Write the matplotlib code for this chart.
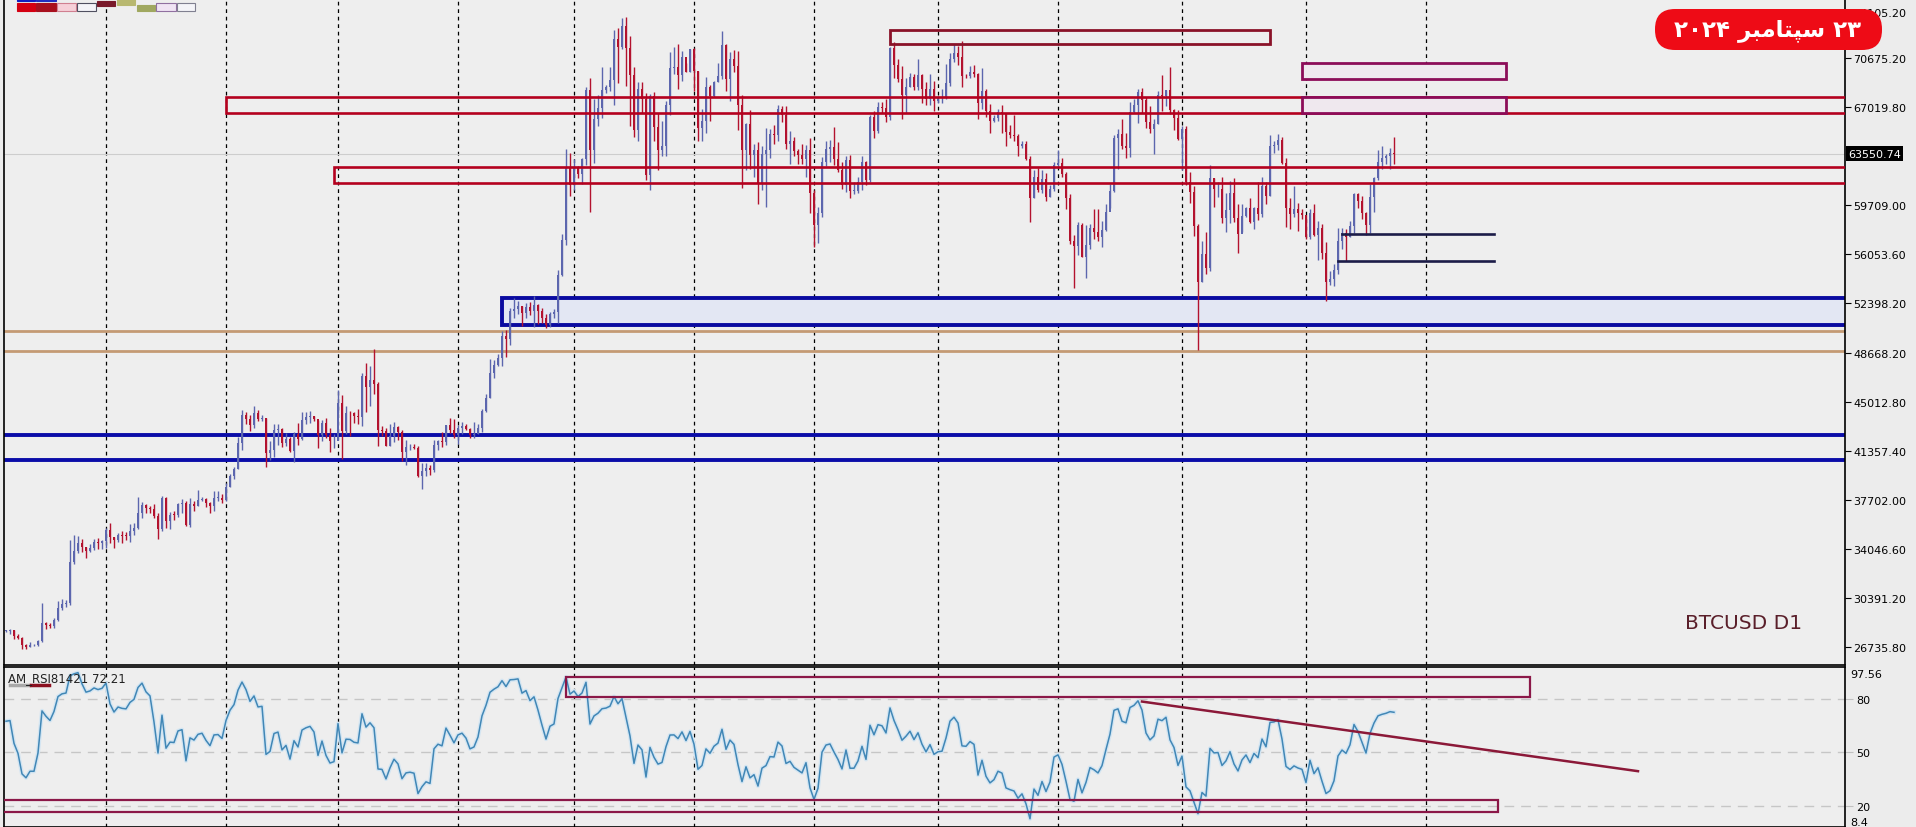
# BTCUSD daily chart (Oct 2023 - Sep 23 2024) with S/R zones and RSI panel
import numpy as np
import pandas as pd
import matplotlib
matplotlib.use("Agg")
import matplotlib.pyplot as plt
from matplotlib.patches import Rectangle, FancyBboxPatch
from matplotlib.transforms import IdentityTransform, blended_transform_factory

# daily candles, prices in thousands of USD, one per calendar day from 2023-10-07
start_day = "2023-10-07"
first_open = 27.93
# broker had no bar on these days
closed_days = ["2023-12-24", "2023-12-25", "2023-12-31", "2024-01-01", "2024-03-29"]
# closes 2023-09-23 .. 2023-10-06, only used to warm up the RSI
warmup_closes = [26.58, 26.25, 26.30, 26.22, 26.37, 27.03, 26.91, 26.97, 27.99, 27.53, 27.43, 27.80, 27.43, 27.93]
closes = [
    27.95, 27.97, 27.59, 27.39, 26.87, 26.75, 26.86, 26.86, 27.16, 28.52, 28.41, 28.33, 28.72, 29.68, 29.92, 29.99, 33.09, 33.90, 34.50, 34.16, 33.91, 34.09, 34.54, 34.50, 34.66,
    35.44, 34.94, 34.73, 35.08, 35.05, 35.04, 35.42, 35.62, 36.70, 37.32, 37.14, 37.06, 36.50, 35.54, 37.88, 36.16, 36.60, 36.58, 37.39, 37.48, 35.81, 37.42, 37.29, 37.72, 37.80, 37.48, 37.25, 37.83, 37.85, 37.72,
    38.69, 39.47, 39.98, 41.98, 44.08, 43.77, 43.29, 44.17, 43.72, 43.79, 41.24, 41.45, 42.89, 43.02, 41.94, 42.26, 41.37, 42.66, 42.27, 43.66, 43.87, 43.99, 43.74, 43.02, 43.61, 42.52, 43.44, 42.58, 42.07, 42.14, 42.28,
    44.18, 44.95, 42.85, 44.18, 44.16, 43.97, 43.93, 46.97, 46.12, 46.63, 46.34, 42.89, 42.84, 41.73, 42.51, 43.15, 42.74, 41.26, 41.62, 41.66, 41.58, 39.51, 39.85, 40.08, 39.94, 41.80, 42.12, 42.03, 43.30, 42.95, 42.58,
    43.08, 43.19, 43.00, 42.58, 42.66, 43.09, 44.34, 45.30, 47.15, 47.77, 48.29, 49.96, 49.74, 51.83, 51.94, 52.16, 51.66, 52.12, 51.78, 52.28, 51.84, 51.30, 50.74, 51.57, 51.73, 54.52, 57.08, 62.50, 61.20,
    62.44, 62.03, 63.17, 68.33, 63.80, 66.11, 66.93, 68.30, 68.50, 69.02, 72.12, 71.48, 73.08, 71.40, 69.40, 65.32, 68.39, 67.61, 61.93, 67.84, 65.50, 63.80, 64.10, 67.21, 69.96, 69.99, 69.45, 70.78, 69.89, 69.65, 71.33,
    69.70, 65.45, 65.98, 68.51, 67.84, 68.90, 69.36, 71.62, 69.14, 70.59, 70.06, 67.20, 63.82, 65.74, 63.42, 63.81, 61.28, 63.51, 63.84, 64.99, 64.94, 66.84, 66.41, 64.28, 64.50, 63.76, 63.42, 63.11, 63.84, 60.64,
    58.25, 59.12, 62.89, 63.89, 64.03, 63.16, 62.33, 61.19, 63.08, 60.79, 60.79, 61.45, 62.90, 61.55, 66.27, 65.23, 67.05, 66.94, 66.28, 71.45, 70.14, 69.12, 67.93, 68.54, 69.29, 68.50, 69.39, 68.36, 67.63, 68.35, 67.49,
    67.71, 67.75, 68.80, 70.57, 71.08, 70.76, 69.34, 69.31, 69.65, 69.50, 67.32, 68.24, 66.75, 66.01, 66.19, 66.64, 66.49, 65.14, 64.96, 64.83, 64.10, 64.25, 63.18, 60.27, 61.80, 60.86, 61.67, 60.32, 60.89, 62.67,
    62.85, 62.03, 60.20, 57.06, 56.66, 58.23, 55.85, 56.70, 58.00, 57.72, 57.34, 57.88, 59.20, 60.79, 64.72, 65.04, 64.09, 63.97, 66.68, 67.15, 68.17, 67.58, 65.93, 65.37, 65.78, 67.91, 67.81, 68.26, 66.78, 66.20, 64.62,
    65.35, 61.42, 60.68, 58.11, 53.99, 56.03, 55.03, 61.71, 60.88, 60.94, 58.71, 59.35, 60.61, 58.74, 57.56, 58.87, 59.48, 58.48, 59.49, 59.01, 61.16, 60.38, 64.10, 64.18, 64.57, 62.88, 59.50, 59.03, 59.38, 59.12, 58.97,
    57.33, 59.13, 57.48, 57.97, 56.16, 53.95, 54.16, 54.88, 57.04, 57.65, 57.34, 58.13, 60.55, 60.00, 59.13, 58.21, 60.31, 61.76, 62.94, 63.19, 63.35, 63.58, 63.55,
]
highs = [
    28.03, 28.10, 28.00, 27.73, 27.48, 26.94, 27.10, 26.98, 27.29, 30.00, 28.61, 28.50, 28.92, 30.20, 30.35, 30.21, 34.70, 35.10, 35.00, 34.80, 34.20, 34.45, 34.77, 34.84, 34.70,
    35.58, 35.98, 34.94, 35.26, 35.38, 35.30, 35.90, 35.96, 37.94, 37.52, 37.42, 37.22, 37.43, 36.74, 37.98, 37.94, 36.84, 36.85, 37.50, 37.75, 37.65, 37.87, 37.65, 38.42, 37.90, 37.85, 37.58, 38.38, 38.40, 38.15,
    38.95, 39.65, 40.20, 42.40, 44.45, 44.30, 44.05, 44.70, 44.40, 44.05, 43.80, 42.10, 43.40, 43.40, 43.10, 42.70, 42.42, 42.75, 43.45, 44.25, 44.28, 44.37, 44.00, 43.94, 43.82, 43.70, 43.65, 43.80, 43.11, 42.60, 42.85,
    44.20, 45.90, 45.50, 44.75, 44.33, 44.25, 44.50, 47.20, 47.90, 47.70, 48.97, 46.50, 43.25, 43.05, 43.40, 43.55, 43.20, 42.90, 42.20, 41.85, 41.85, 41.70, 40.50, 40.50, 40.30, 42.20, 42.20, 42.80, 43.30, 43.85, 43.75,
    43.30, 43.50, 43.40, 43.10, 43.50, 43.40, 44.50, 45.60, 48.20, 48.15, 48.60, 50.30, 50.35, 52.00, 52.80, 52.55, 52.20, 52.40, 52.50, 52.95, 52.35, 52.00, 51.55, 51.70, 51.95, 54.90, 57.55, 63.90, 63.60,
    63.15, 62.60, 63.25, 68.55, 69.20, 67.60, 67.95, 70.00, 68.70, 70.00, 72.80, 72.90, 73.65, 73.75, 72.35, 70.00, 68.90, 68.90, 68.10, 68.00, 68.15, 66.60, 65.95, 67.50, 71.10, 71.50, 71.70, 71.20, 70.90, 70.30, 71.35,
    71.40, 69.70, 66.90, 69.30, 68.70, 69.00, 70.30, 72.70, 71.75, 71.10, 71.25, 71.20, 67.90, 65.80, 66.80, 64.30, 64.45, 64.10, 65.45, 65.40, 65.70, 67.20, 67.10, 67.10, 65.20, 64.80, 63.90, 64.30, 64.20, 64.70,
    60.80, 59.60, 63.30, 64.50, 64.60, 65.50, 64.40, 62.95, 63.40, 63.45, 61.40, 61.80, 63.40, 63.00, 66.40, 66.70, 67.40, 67.40, 67.65, 71.50, 71.90, 70.60, 70.05, 69.20, 69.55, 69.50, 70.60, 69.50, 68.90, 69.50, 69.00,
    67.85, 68.40, 70.20, 71.05, 71.75, 71.60, 71.95, 69.50, 70.10, 70.15, 69.55, 69.95, 68.40, 67.25, 66.40, 66.90, 67.20, 66.60, 65.70, 66.45, 65.00, 64.50, 64.50, 63.35, 62.30, 62.45, 62.35, 62.10, 61.20, 62.90,
    63.80, 63.20, 62.20, 60.50, 57.50, 58.45, 58.40, 58.20, 58.30, 59.40, 59.40, 58.50, 59.80, 61.30, 64.90, 65.35, 66.10, 65.10, 67.40, 67.60, 68.35, 68.45, 67.80, 67.10, 66.10, 68.20, 69.40, 68.30, 70.00, 66.90, 66.80,
    65.60, 65.60, 62.20, 61.10, 58.30, 57.00, 57.70, 62.70, 61.75, 61.40, 61.80, 60.60, 61.50, 61.75, 59.80, 59.80, 59.60, 60.20, 59.60, 61.40, 61.80, 61.40, 64.90, 64.50, 65.00, 64.80, 63.20, 60.20, 61.15, 59.90, 59.40,
    59.00, 59.40, 59.80, 58.50, 58.30, 56.95, 54.80, 55.30, 58.00, 58.00, 57.95, 58.55, 60.60, 60.60, 60.35, 59.20, 61.30, 61.80, 63.85, 64.10, 63.55, 64.00, 64.75,
]
lows = [
    27.84, 27.70, 27.30, 27.30, 26.56, 26.56, 26.70, 26.81, 26.84, 27.13, 28.11, 28.15, 28.17, 28.64, 29.51, 29.69, 29.90, 32.90, 33.75, 33.80, 33.40, 33.85, 33.96, 34.05, 34.08,
    34.10, 34.50, 34.12, 34.60, 34.52, 34.72, 34.55, 35.10, 35.55, 36.35, 36.74, 36.75, 36.33, 34.80, 35.38, 35.58, 35.55, 36.21, 36.40, 36.75, 35.73, 35.66, 36.90, 37.25, 37.60, 37.20, 36.75, 36.90, 37.60, 37.50,
    37.60, 38.65, 39.30, 39.98, 41.40, 43.40, 42.85, 43.10, 43.60, 43.57, 40.20, 40.68, 40.90, 41.80, 41.67, 41.70, 41.25, 40.55, 41.82, 42.20, 43.35, 43.42, 43.58, 42.80, 42.77, 41.55, 42.13, 42.30, 41.30, 41.55, 41.98,
    42.20, 44.20, 40.75, 42.60, 42.50, 43.42, 43.40, 43.20, 44.30, 44.70, 45.60, 41.70, 42.45, 41.70, 41.75, 42.05, 42.20, 40.60, 40.28, 41.45, 41.50, 39.45, 38.55, 39.50, 39.55, 39.82, 41.40, 41.65, 41.80, 42.70, 42.30,
    41.90, 42.60, 42.90, 42.30, 42.30, 42.60, 42.80, 44.30, 45.30, 46.80, 47.70, 47.70, 48.40, 49.30, 51.30, 51.60, 50.70, 51.30, 51.50, 50.60, 50.80, 50.90, 50.55, 50.60, 51.30, 50.90, 54.45, 56.70, 60.40,
    60.80, 61.70, 61.30, 62.70, 59.20, 62.85, 65.60, 66.20, 68.05, 68.20, 67.20, 68.80, 71.35, 68.60, 65.60, 64.80, 64.50, 66.60, 61.60, 60.80, 64.50, 62.30, 63.40, 63.40, 66.40, 69.50, 68.40, 68.95, 69.10, 69.60, 69.60,
    68.20, 64.50, 64.50, 65.10, 66.00, 67.80, 68.90, 69.10, 68.20, 67.50, 69.60, 65.30, 61.00, 62.30, 62.40, 61.80, 59.80, 60.80, 59.60, 63.20, 64.30, 64.50, 65.90, 63.90, 62.80, 63.35, 62.80, 62.80, 61.80, 59.10,
    56.55, 56.90, 58.80, 62.60, 62.90, 62.70, 62.20, 60.90, 60.70, 60.20, 60.50, 60.60, 60.80, 61.20, 61.40, 64.70, 65.10, 66.60, 65.90, 66.05, 69.20, 68.90, 66.10, 66.60, 68.50, 68.30, 68.30, 67.30, 67.20, 67.15, 66.70,
    67.30, 67.30, 67.60, 68.60, 70.40, 70.15, 68.50, 69.20, 69.20, 69.25, 66.10, 66.90, 66.30, 65.10, 65.90, 66.00, 65.10, 64.10, 64.70, 64.50, 63.40, 63.95, 63.10, 58.45, 60.25, 60.70, 60.60, 60.00, 60.30, 60.75,
    62.50, 61.80, 59.45, 56.80, 53.50, 56.00, 55.80, 54.30, 56.40, 57.20, 57.00, 56.60, 57.80, 59.50, 60.70, 62.40, 63.90, 63.25, 63.30, 66.60, 65.80, 66.60, 65.45, 65.10, 63.50, 65.75, 66.70, 67.10, 66.50, 65.30, 64.55,
    62.30, 61.20, 59.90, 57.40, 48.90, 54.00, 54.60, 54.80, 59.60, 60.30, 58.40, 57.70, 58.40, 58.45, 56.10, 57.70, 58.80, 58.40, 57.90, 58.60, 58.80, 59.80, 60.35, 63.60, 63.80, 62.80, 58.10, 57.90, 58.80, 57.80, 58.70,
    57.20, 57.20, 57.40, 55.60, 55.70, 52.55, 53.75, 53.65, 54.60, 56.40, 55.55, 57.30, 57.60, 59.50, 58.70, 57.50, 57.65, 59.20, 61.60, 62.40, 62.75, 62.40, 62.80,
]

# price axis labels
price_ticks = [74105.20, 70675.20, 67019.80, 59709.00, 56053.60, 52398.20, 48668.20,
               45012.80, 41357.40, 37702.00, 34046.60, 30391.20, 26735.80]
last_price = 63550.74
rsi_label = "AM_RSI81421 72.21"

# drawn zones: (start date, end date or None = to the right edge, low, high)
red_bands = [("2023-12-01", None, 66595, 67776), ("2023-12-30", None, 61390, 62520)]
top_box = ("2024-05-20", "2024-08-23", 71706, 72805)
purple_boxes = [("2024-08-31", "2024-10-21", 69151, 70339), ("2024-08-31", "2024-10-21", 66595, 67776)]
blue_box = ("2024-02-12", None, 50745, 52792)
tan_lines = [50296, 48801]
blue_lines = [42525, 40688]
navy_lines = [("2024-09-10", "2024-10-18", 57575), ("2024-09-09", "2024-10-18", 55528)]
rsi_top_box = ("2024-02-28", "2024-10-27", 81.0, 91.8)
rsi_low_box = (None, "2024-10-19", 17.0, 23.2)
rsi_trend = [("2024-07-22", 78.3), ("2024-11-23", 39.5)]

# ---------------------------------------------------------------
days = pd.date_range(start_day, periods=len(closes), freq="D")
df = pd.DataFrame({"c": closes, "h": highs, "l": lows}, index=days) * 1000
df = df.drop(pd.to_datetime(closed_days))
c, h, l = df["c"].values, df["h"].values, df["l"].values
o = np.concatenate([[first_open * 1000], c[:-1]])
x = np.arange(len(c))
bar_dates = df.index
last_i = len(c) - 1

def pos(d):
    d = pd.Timestamp(d)
    if d <= bar_dates[-1]:
        return int(bar_dates.searchsorted(d))
    return last_i + (d - bar_dates[-1]).days

# RSI (Wilder, period 8), warmed up on the two weeks before the chart
allc = np.concatenate([np.array(warmup_closes) * 1000, c])
d = np.diff(allc, prepend=allc[0])
gain = pd.Series(np.clip(d, 0, None)).ewm(alpha=1 / 8, adjust=False).mean()
loss = pd.Series(np.clip(-d, 0, None)).ewm(alpha=1 / 8, adjust=False).mean()
rsi = (100 - 100 / (1 + gain / loss)).values[len(warmup_closes):]

W, H = 1916, 828
BG = "#eeeeee"
fig = plt.figure(figsize=(W / 100, H / 100), dpi=100, facecolor="#ececec")

def px_axes(x0, y0, x1, y1):
    return fig.add_axes([x0 / W, 1 - y1 / H, (x1 - x0) / W, (y1 - y0) / H])

ax = px_axes(4, 0, 1845, 666)
rax = px_axes(4, 668, 1845, 828)
XL = (-0.5, 459.75)   # 4 px per bar
right_end = XL[1] + 5

for a in (ax, rax):
    a.set_facecolor(BG)
    a.set_xlim(*XL)
    a.set_xticks([])
    for s in a.spines.values():
        s.set_color("black")
        s.set_linewidth(1.2)
    a.yaxis.tick_right()
    a.tick_params(axis="y", labelsize=8, length=4, width=0.8, pad=2, colors="black")
    for m in pd.date_range("2023-11-01", "2024-10-01", freq="MS"):
        a.axvline(pos(m), color="black", lw=0.9, ls=(0, (3, 3)), zorder=1)

ax.set_ylim(25391, 75084)
rax.set_ylim(8.4, 97.56)

def xr(s, e):
    x0 = XL[0] - 1 if s is None else pos(s)
    x1 = right_end if e is None else pos(e)
    return x0, x1

# zones
bs, be, blo, bhi = blue_box
x0, x1 = xr(bs, be)
ax.add_patch(Rectangle((x0, blo), x1 - x0, bhi - blo, fc="#e3e7f3", ec="#0a0aa0", lw=2.8, zorder=2))
for y in tan_lines:
    ax.axhline(y, color="#c49a74", lw=2.0, zorder=2)
for y in blue_lines:
    ax.axhline(y, color="#0a0ca8", lw=2.8, zorder=2)
for s, e, lo, hi in red_bands:
    x0, x1 = xr(s, e)
    ax.add_patch(Rectangle((x0, lo), x1 - x0, hi - lo, fill=False, ec="#b4001e", lw=1.9, zorder=4))
s, e, lo, hi = top_box
x0, x1 = xr(s, e)
ax.add_patch(Rectangle((x0, lo), x1 - x0, hi - lo, fill=False, ec="#8a1228", lw=2.0, zorder=4))
for s, e, lo, hi in purple_boxes:
    x0, x1 = xr(s, e)
    ax.add_patch(Rectangle((x0, lo), x1 - x0, hi - lo, fc="#efe8ee", ec="#8c0c58", lw=2.0, zorder=4))
for s, e, y in navy_lines:
    ax.plot([pos(s), pos(e)], [y, y], color="#1c1c48", lw=1.9, zorder=4)

# candles
up = c >= o
cols = np.where(up, "#5c66ae", "#b3122e")
ax.vlines(x, l, h, colors=cols, lw=1.0, zorder=3)
ax.bar(x, np.maximum(np.abs(c - o), 60), bottom=np.minimum(o, c), width=0.72,
       color=cols, linewidth=0, zorder=3)

# bid line + price label
ax.axhline(last_price, color="#cdcdcd", lw=0.8, zorder=1)
ax.set_yticks(price_ticks)
ax.set_yticklabels([f"{v:.2f}" for v in price_ticks])
bt = blended_transform_factory(ax.transAxes, ax.transData)
ax.text(1.0015, last_price, f"{last_price:.2f}", transform=bt, va="center", ha="left",
        color="white", fontsize=8, bbox=dict(fc="black", ec="none", pad=1.6), zorder=10)

ax.text(0.9767, 0.064, "BTCUSD D1", transform=ax.transAxes, ha="right", va="center",
        fontsize=14.5, color="#5a1f2a")

# RSI panel
for lv in (80, 50, 20):
    rax.axhline(lv, color="#c6c6c6", lw=1.0, ls=(0, (7, 5)), zorder=1)
rax.plot(x, rsi, color="#d3e5f2", lw=3.0, zorder=2)
rax.plot(x, rsi, color="#4187b6", lw=1.1, zorder=3)
s, e, lo, hi = rsi_top_box
x0, x1 = xr(s, e)
rax.add_patch(Rectangle((x0, lo), x1 - x0, hi - lo, fill=False, ec="#8b1848", lw=1.6, zorder=4))
s, e, lo, hi = rsi_low_box
x0, x1 = xr(s, e)
rax.add_patch(Rectangle((x0, lo), x1 - x0, hi - lo, fill=False, ec="#8b1848", lw=1.6, zorder=4))
rax.plot([pos(d0) for d0, _ in rsi_trend], [v for _, v in rsi_trend], color="#8b1838", lw=1.8, zorder=4)
rax.set_yticks([80, 50, 20])
rax.set_yticklabels(["80", "50", "20"])
rax.tick_params(axis="y", colors="#c0c0c0", labelcolor="black", length=6)
rax.text(1.003, 0.985, "97.56", transform=rax.transAxes, ha="left", va="top", fontsize=8)
rax.text(1.003, 0.0, "8.4", transform=rax.transAxes, ha="left", va="bottom", fontsize=8)
rax.text(0.002, 0.975, rsi_label, transform=rax.transAxes, ha="left", va="top", fontsize=8.5, color="#222222")
rax.plot([0.0035, 0.0135], [0.89, 0.89], transform=rax.transAxes, color="#a8a8a8", lw=2.5)
rax.plot([0.0145, 0.0245], [0.89, 0.89], transform=rax.transAxes, color="#8b1020", lw=2.5)

# toolbar swatches at top-left (cut by the frame)
for x0, x1, y0, y1, fc, ec in [(17, 35, 4, 12, "#d40012", "#d40012"), (36, 56, 4, 12, "#a8101e", "#a8101e"),
                               (57, 76, 4, 12, "#f6d0d8", "#d08090"), (77, 96, 4, 12, "#f4f4f8", "#505060"),
                               (97, 115, 2, 7, "#7a1a2a", "#7a1a2a"), (117, 135, 0, 6, "#b8b870", "#b8b870"),
                               (137, 155, 6, 12, "#a0a860", "#a0a860"), (156, 176, 4, 12, "#f0e4f4", "#9070a0"),
                               (177, 195, 4, 12, "#f4f4f8", "#808090"), (17, 35, 0, 2, "#1020c0", "#1020c0"),
                               (36, 56, 0, 2, "#2030c0", "#2030c0")]:
    fig.add_artist(Rectangle((x0, H - y1), x1 - x0, y1 - y0, fc=fc, ec=ec, lw=0.8,
                             transform=IdentityTransform()))

# date badge
fig.add_artist(FancyBboxPatch((1655, H - 51), 227, 41, boxstyle="round,pad=0,rounding_size=20",
                              fc="#ee0b16", ec="none", transform=IdentityTransform(), zorder=20))
badge = "\u06f2\u06f0\u06f2\u06f4 " + "\ufeae\ufe92\ufee3\ufe8e\ufe98\ufb59\ufeb3" + " \u06f2\u06f3"
fig.text(1768 / W, 1 - 31 / H, badge, ha="center", va="center", color="white", fontsize=16.5,
         fontweight="bold", family=["DejaVu Sans"], zorder=21)

fig.savefig("out.png", dpi=100, facecolor=fig.get_facecolor())
